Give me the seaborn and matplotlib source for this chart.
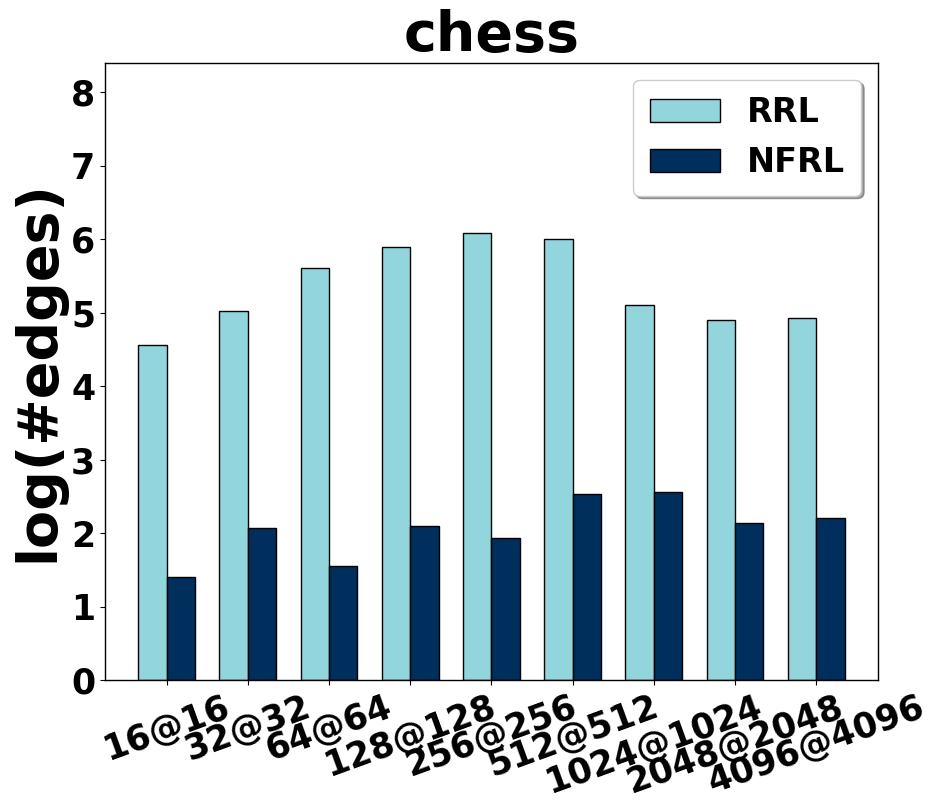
import numpy as np
import pandas as pd
import matplotlib
matplotlib.use('Agg')
import matplotlib.pyplot as plt
import seaborn as sns

sns.set_style('ticks')
plt.rcParams['font.family'] = ['DejaVu Sans']
plt.rcParams['font.weight'] = 'bold'
plt.rcParams['text.color'] = 'black'
plt.rcParams['axes.labelcolor'] = 'black'
plt.rcParams['xtick.color'] = 'black'
plt.rcParams['ytick.color'] = 'black'

configs = ['16@16', '32@32', '64@64', '128@128', '256@256', '512@512',
           '1024@1024', '2048@2048', '4096@4096']
rrl = [4.56, 5.02, 5.61, 5.89, 6.08, 6.01, 5.10, 4.90, 4.93]
nfrl = [1.40, 2.07, 1.55, 2.10, 1.93, 2.53, 2.56, 2.14, 2.20]
methods = ['RRL', 'NFRL']
colors = ['#93d5dc', '#002f5e']

df = pd.DataFrame({
    'config': configs * 2,
    'value': rrl + nfrl,
    'method': ['RRL'] * len(configs) + ['NFRL'] * len(configs),
})

fig = plt.figure(figsize=(9.37, 8.09), dpi=100)
ax = fig.add_axes([0.112, 0.1595, 0.825, 0.7625])

sns.barplot(data=df, x='config', y='value', hue='method', order=configs,
            hue_order=methods, palette=colors, width=0.7,
            edgecolor='black', linewidth=1, saturation=1, ax=ax)

ax.set_xlim(-0.76, len(configs) - 0.24)
ax.set_ylim(0, 8.4)
ax.set_yticks(range(0, 9))
ax.set_title('chess', fontsize=40, fontweight='bold', color='black')
ax.set_ylabel('log(#edges)', fontsize=40, fontweight='bold', color='black')
ax.set_xlabel('')
ax.tick_params(axis='both', labelsize=25, colors='black')
plt.setp(ax.get_xticklabels(), rotation=20, fontweight='bold')
plt.setp(ax.get_yticklabels(), fontweight='bold')
for s in ax.spines.values():
    s.set_color('black')
    s.set_linewidth(1)

leg = ax.legend(loc='upper right', fontsize=24, fancybox=True, shadow=True,
                frameon=True, borderpad=0.5, handlelength=2.1)
for t in leg.get_texts():
    t.set_fontweight('bold')
    t.set_color('black')

fig.savefig('out.png', dpi=100)
